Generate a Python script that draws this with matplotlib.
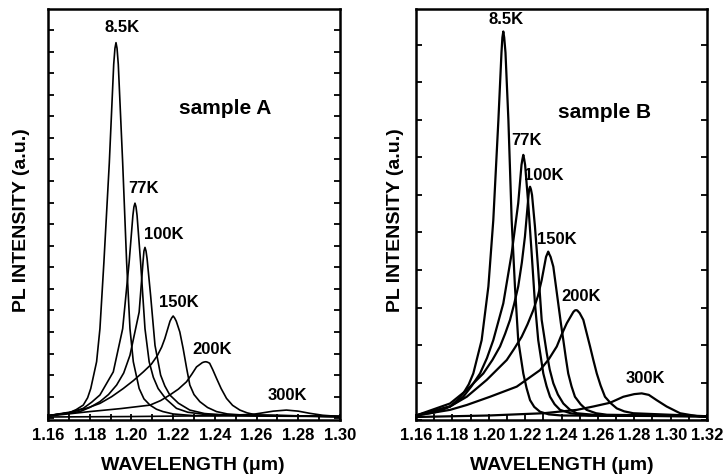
import matplotlib
matplotlib.use("Agg")
import matplotlib.pyplot as plt
from matplotlib.ticker import MultipleLocator, FormatStrFormatter

plt.rcParams['font.family'] = ['Liberation Sans', 'DejaVu Sans']
plt.rcParams['font.weight'] = 'bold'

# sample A spectra (wavelength in um, intensity in a.u.)
a_85_x = [1.160, 1.170, 1.1735, 1.1769, 1.1790, 1.1805, 1.1833, 1.1849, 1.1868, 1.1894, 1.1915,
          1.1921, 1.1926, 1.1931, 1.1937, 1.1958, 1.1977, 1.1993, 1.2009, 1.2037, 1.2060,
          1.2089, 1.2120, 1.2151, 1.220, 1.230, 1.300]
a_85_y = [0.12, 0.25, 0.40, 0.61, 0.95, 1.38, 2.62, 4.15, 7.23, 11.85, 16.4,
          17.15, 17.41, 17.15, 16.4, 11.85, 7.23, 4.15, 2.62, 1.38, 0.9,
          0.61, 0.42, 0.31, 0.2, 0.12, 0.08]
a_77_x = [1.160, 1.170, 1.1769, 1.1810, 1.1849, 1.1913, 1.1958, 1.1989, 1.2007, 1.2012, 1.2017,
          1.2022, 1.2027, 1.2044, 1.2065, 1.2085, 1.2105, 1.2128, 1.2165, 1.2216, 1.2270,
          1.235, 1.300]
a_77_y = [0.12, 0.25, 0.46, 0.75, 1.08, 2.15, 4.15, 7.23, 9.4, 9.8, 9.97,
          9.8, 9.4, 7.23, 4.15, 2.62, 1.9, 1.38, 0.9, 0.46, 0.28,
          0.18, 0.08]
a_100_x = [1.160, 1.1753, 1.1800, 1.1849, 1.1890, 1.1929, 1.1963, 1.1993, 1.2037, 1.2056, 1.2060,
           1.2065, 1.2070, 1.2075, 1.2092, 1.2113, 1.2140, 1.2160, 1.2184, 1.2225, 1.2280,
           1.235, 1.245, 1.300]
a_100_y = [0.12, 0.31, 0.5, 0.77, 1.1, 1.54, 2.1, 2.92, 4.92, 7.3, 7.75,
           7.92, 7.75, 7.4, 5.69, 3.38, 2.0, 1.5, 1.08, 0.7, 0.38,
           0.22, 0.14, 0.08]
a_150_x = [1.160, 1.1721, 1.1790, 1.1849, 1.1905, 1.1961, 1.2010, 1.2057, 1.2095, 1.2124, 1.2145,
           1.2160, 1.2185, 1.2193, 1.2200, 1.2207, 1.2215, 1.2232, 1.2248, 1.2265, 1.2280,
           1.2300, 1.2328, 1.2365, 1.2408, 1.2460, 1.255, 1.300]
a_150_y = [0.12, 0.31, 0.48, 0.69, 1.0, 1.38, 1.75, 2.15, 2.5, 2.9, 3.3,
           3.69, 4.5, 4.65, 4.74, 4.65, 4.5, 4.0, 3.23, 2.3, 1.54,
           1.1, 0.77, 0.5, 0.31, 0.2, 0.14, 0.08]
a_200_x = [1.160, 1.180, 1.195, 1.2089, 1.2140, 1.2184, 1.2225, 1.2264, 1.2290, 1.2312, 1.2340,
           1.2349, 1.2357, 1.2365, 1.2375, 1.2390, 1.2408, 1.2430, 1.2456, 1.2485, 1.2520,
           1.2555, 1.2600, 1.300]
a_200_y = [0.10, 0.31, 0.45, 0.61, 0.82, 1.08, 1.35, 1.69, 2.05, 2.38, 2.58,
           2.61, 2.62, 2.6, 2.55, 2.25, 1.85, 1.38, 0.92, 0.6, 0.38,
           0.25, 0.15, 0.08]
a_300_x = [1.160, 1.200, 1.240, 1.258, 1.2615, 1.268, 1.2743, 1.280, 1.2855, 1.2917, 1.300]
a_300_y = [0.06, 0.08, 0.12, 0.18, 0.23, 0.33, 0.38, 0.33, 0.23, 0.14, 0.08]

# sample B spectra
b_85_x = [1.160, 1.170, 1.1745, 1.1787, 1.1825, 1.1860, 1.1890, 1.1915, 1.1961, 1.1998, 1.2025,
          1.2053, 1.2070, 1.2075, 1.2080, 1.2085, 1.2092, 1.2108, 1.2126, 1.2144, 1.2162,
          1.2190, 1.2208, 1.2227, 1.2250, 1.2282, 1.2330, 1.240, 1.320]
b_85_y = [0.12, 0.2, 0.27, 0.36, 0.52, 0.71, 0.95, 1.24, 2.13, 3.56, 5.33,
          8.0, 9.8, 10.2, 10.36, 10.2, 9.8, 8.0, 5.33, 3.56, 2.13,
          1.24, 0.85, 0.53, 0.35, 0.22, 0.15, 0.12, 0.10]
b_77_x = [1.160, 1.1787, 1.1825, 1.1860, 1.1905, 1.1952, 1.1990, 1.2025, 1.2080, 1.2126, 1.2162,
          1.2180, 1.2185, 1.2190, 1.2195, 1.2200, 1.2217, 1.2236, 1.2254, 1.2272, 1.2300,
          1.2318, 1.2337, 1.2362, 1.2392, 1.245, 1.255, 1.320]
b_77_y = [0.12, 0.36, 0.48, 0.62, 0.9, 1.24, 1.65, 2.13, 3.11, 4.44, 5.78,
          6.8, 6.95, 7.07, 6.95, 6.8, 5.78, 4.44, 3.11, 2.13, 1.24,
          0.9, 0.62, 0.42, 0.27, 0.18, 0.12, 0.10]
b_100_x = [1.160, 1.1787, 1.1879, 1.1970, 1.2020, 1.2062, 1.2090, 1.2117, 1.2140, 1.2162, 1.2182,
           1.2199, 1.2218, 1.2222, 1.2227, 1.2232, 1.2238, 1.2254, 1.2272, 1.2291, 1.2319,
           1.2335, 1.2355, 1.2380, 1.2410, 1.2445, 1.2484, 1.262, 1.320]
b_100_y = [0.12, 0.44, 0.80, 1.24, 1.6, 1.96, 2.3, 2.67, 3.1, 3.56, 4.2,
           4.89, 5.95, 6.15, 6.22, 6.15, 6.0, 5.16, 4.0, 2.67, 1.78,
           1.35, 0.98, 0.68, 0.44, 0.28, 0.18, 0.12, 0.10]
b_150_x = [1.160, 1.1787, 1.1879, 1.1989, 1.2099, 1.2140, 1.2181, 1.2213, 1.2245, 1.2270, 1.2291,
           1.2315, 1.2321, 1.2327, 1.2333, 1.2340, 1.2355, 1.2382, 1.2396, 1.2410, 1.2424,
           1.2437, 1.2455, 1.2474, 1.2505, 1.2538, 1.2590, 1.265, 1.320]
b_150_y = [0.12, 0.36, 0.62, 1.07, 1.60, 1.9, 2.22, 2.55, 2.93, 3.3, 3.73,
           4.35, 4.42, 4.49, 4.42, 4.35, 4.09, 3.11, 2.6, 2.13, 1.65,
           1.24, 0.9, 0.62, 0.42, 0.27, 0.18, 0.14, 0.10]
b_200_x = [1.160, 1.1787, 1.1879, 1.2007, 1.2154, 1.2282, 1.2330, 1.2374, 1.2400, 1.2429, 1.2465,
           1.2473, 1.2480, 1.2487, 1.2500, 1.2520, 1.2557, 1.2575, 1.2594, 1.2615, 1.2639,
           1.2670, 1.2704, 1.2745, 1.2795, 1.320]
b_200_y = [0.12, 0.27, 0.40, 0.62, 0.89, 1.33, 1.62, 1.96, 2.27, 2.58, 2.88,
           2.92, 2.93, 2.92, 2.85, 2.67, 1.96, 1.6, 1.24, 0.92, 0.62,
           0.45, 0.31, 0.23, 0.18, 0.10]
b_300_x = [1.160, 1.200, 1.230, 1.2484, 1.2575, 1.2667, 1.2740, 1.2800, 1.2841, 1.2880,
           1.2923, 1.2978, 1.3052, 1.3161, 1.320]
b_300_y = [0.08, 0.12, 0.18, 0.27, 0.36, 0.46, 0.62, 0.69, 0.71, 0.67,
           0.53, 0.36, 0.18, 0.09, 0.08]

temps = ["8.5K", "77K", "100K", "150K", "200K", "300K"]
curves_a = [(a_85_x, a_85_y), (a_77_x, a_77_y), (a_100_x, a_100_y),
            (a_150_x, a_150_y), (a_200_x, a_200_y), (a_300_x, a_300_y)]
curves_b = [(b_85_x, b_85_y), (b_77_x, b_77_y), (b_100_x, b_100_y),
            (b_150_x, b_150_y), (b_200_x, b_200_y), (b_300_x, b_300_y)]
# label positions (x, y) in data units
labels_a = [(1.1955, 18.09), (1.206, 10.66), (1.2156, 8.54), (1.2228, 5.35), (1.2386, 3.18), (1.275, 1.06)]
labels_b = [(1.2097, 10.67), (1.221, 7.45), (1.2302, 6.52), (1.2375, 4.82), (1.2509, 3.29), (1.2861, 1.11)]

fig = plt.figure(figsize=(7.24, 4.76), dpi=100)
ax1 = fig.add_axes([48/724, 56/476, 292/724, 411/476])
ax2 = fig.add_axes([416/724, 56/476, 291/724, 411/476])


def style(ax, x0, x1, ytop, ybot, ystep):
    ax.set_xlim(x0, x1)
    ax.set_ylim(ybot, ytop)
    ax.xaxis.set_major_locator(MultipleLocator(0.02))
    ax.xaxis.set_minor_locator(MultipleLocator(0.01))
    ax.yaxis.set_major_locator(MultipleLocator(ystep))
    ax.tick_params(axis='x', which='both', direction='in', length=4, width=1.3,
                   labelsize=12, pad=6, top=False)
    ax.tick_params(axis='y', which='both', direction='in', length=4, width=1.3,
                   left=True, right=True, labelleft=False)
    ax.xaxis.set_major_formatter(FormatStrFormatter('%.2f'))
    for s in ax.spines.values():
        s.set_linewidth(1.8)


for (x, y), t, (lx, ly) in zip(curves_a, temps, labels_a):
    ax1.plot(x, y, color='black', lw=1.2)
    ax1.text(lx, ly, t, ha='center', va='center', fontsize=12, fontweight='bold')
for (x, y), t, (lx, ly) in zip(curves_b, temps, labels_b):
    ax2.plot(x, y, color='black', lw=1.6)
    ax2.text(lx, ly, t, ha='center', va='center', fontsize=12, fontweight='bold')

style(ax1, 1.16, 1.30, 18.97, -0.08, 1)
style(ax2, 1.16, 1.32, 10.96, 0, 1)

ax1.text(1.2448, 14.35, "sample A", ha='center', va='center', fontsize=15, fontweight='bold')
ax2.text(1.2636, 8.19, "sample B", ha='center', va='center', fontsize=15, fontweight='bold')

fig.text(22/724, 1 - 220/476, "PL INTENSITY (a.u.)", rotation=90, ha='center', va='center',
         fontsize=14, fontweight='bold')
fig.text(395/724, 1 - 220/476, "PL INTENSITY (a.u.)", rotation=90, ha='center', va='center',
         fontsize=14, fontweight='bold')
fig.text(193/724, 1 - 465/476, "WAVELENGTH (\u03bcm)", ha='center', va='center',
         fontsize=14, fontweight='bold')
fig.text(562/724, 1 - 465/476, "WAVELENGTH (\u03bcm)", ha='center', va='center',
         fontsize=14, fontweight='bold')

fig.savefig("out.png", dpi=100)
